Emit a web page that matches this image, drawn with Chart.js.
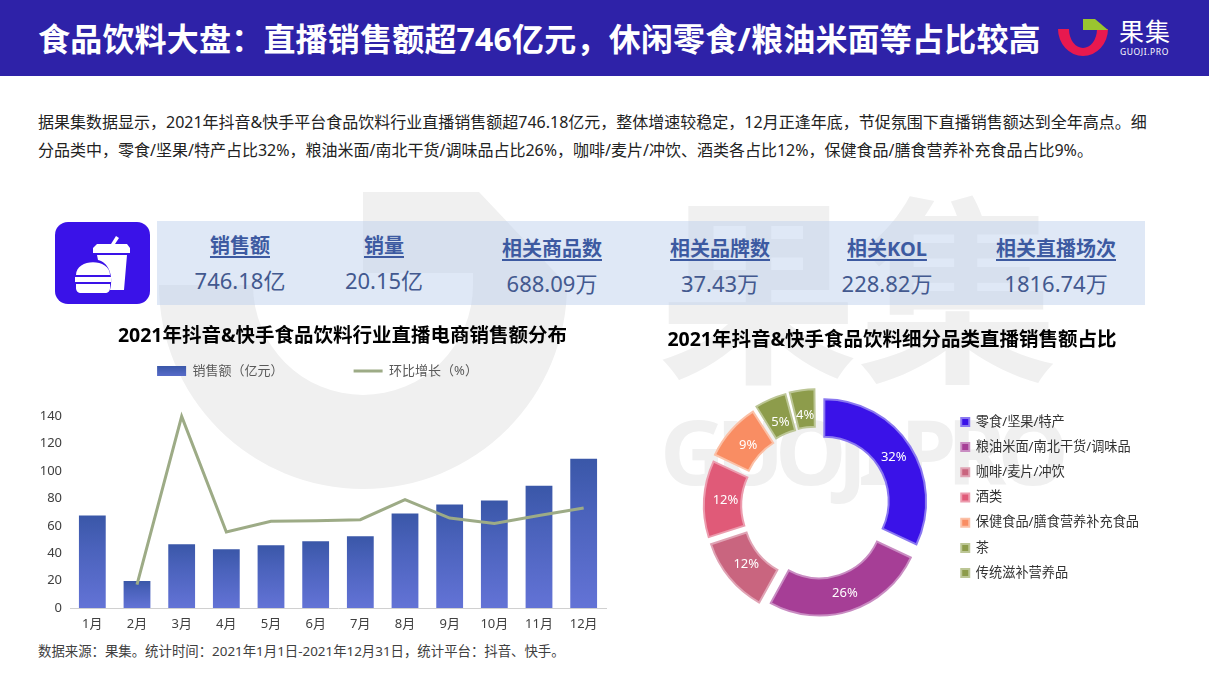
<!DOCTYPE html>
<html lang="zh">
<head>
<meta charset="utf-8">
<title>食品饮料大盘</title>
<script src="https://cdn.jsdelivr.net/npm/chart.js@4/dist/chart.umd.min.js"></script>
<style>
  * { box-sizing: border-box; }
  html, body { margin: 0; padding: 0; background: #fff; }
  body { width: 1209px; height: 680px; position: relative; overflow: hidden;
         font-family: "Noto Sans", "Noto Sans CJK SC", sans-serif; color: #222; }
  .abs { position: absolute; white-space: nowrap; }
  .header { left: 0; top: 0; width: 1209px; height: 76px; background: #2e22a8; }
  .headline { left: 38px; top: 16px; font-size: 32px; line-height: 46px; font-weight: 700; color: #fff; letter-spacing: .2px; }
  .intro { left: 38px; font-size: 16px; line-height: 20px; color: #222; }
  .band { left: 157px; top: 221px; width: 988px; height: 84px; background: rgba(186,205,236,.46); }
  .kpi { transform: translateX(-50%); text-align: center; color: #43598f; }
  .kpi b { display: block; font-size: 20px; line-height: 28px; color: #3d5aa1; text-decoration: underline; text-underline-offset: 3px; }
  .kpi span { display: block; font-size: 22px; line-height: 34px; margin-top: 3px; }
  .mark { color: #f0f0f0; font-weight: 700; }
  canvas { position: absolute; }
  .source { left: 38px; top: 641px; font-size: 13.4px; line-height: 20px; color: #404040; }
</style>
</head>
<body>

<!-- watermark behind everything -->
<svg class="abs" style="left:0;top:0" width="1209" height="680">
  <path d="M159 285 H253 A110 110 0 0 0 473 285 H567 A204 204 0 0 1 159 285 Z" fill="#f0f0f0"/>
  <path d="M363 192 H479 L567 285 H473 V273 H363 Z" fill="#f0f0f0"/>
</svg>
<div class="abs mark" style="left:658px;top:145px;font-size:200px;line-height:290px;">果集</div>
<div class="abs mark" style="left:660px;top:390px;font-size:90px;line-height:120px;letter-spacing:-9px;">GUOJI.PRO</div>

<div class="abs header"></div>
<div class="abs headline">食品饮料大盘：直播销售额超746亿元，休闲零食/粮油米面等占比较高</div>
<svg class="abs" style="left:1050px;top:10px" width="70" height="55">
  <path d="M8 19 H19 A14 19 0 0 0 47 19 H58 A25 27 0 0 1 8 19 Z" fill="#e8194f"/>
  <path d="M33 9 H45 L58 20 H33 Z" fill="#9ac52f"/>
</svg>
<div class="abs" style="left:1119px;top:13px;font-size:25px;line-height:36px;color:#fff;letter-spacing:1px;">果集</div>
<div class="abs" style="left:1120px;top:46px;font-size:8.5px;line-height:12px;color:#fff;letter-spacing:.6px;">GUOJI.PRO</div>

<div class="abs intro" style="top:112px">据果集数据显示，2021年抖音&amp;快手平台食品饮料行业直播销售额超746.18亿元，整体增速较稳定，12月正逢年底，节促氛围下直播销售额达到全年高点。细</div>
<div class="abs intro" style="top:140px">分品类中，零食/坚果/特产占比32%，粮油米面/南北干货/调味品占比26%，咖啡/麦片/冲饮、酒类各占比12%，保健食品/膳食营养补充食品占比9%。</div>

<div class="abs band"></div>
<svg class="abs" style="left:55px;top:222px" width="95" height="82" viewBox="55 222 95 82">
  <rect x="55" y="222" width="95" height="82" rx="13" fill="#3a12e8"/>
  <path d="M111 244 L116 236 L119 238 L115 244 Z" fill="#fff"/>
  <path d="M97 244 H127 L130 248 V253 H93 V248 Z" fill="#fff"/>
  <path d="M97 255 H127 L124 290 H110 C114 275 108 262 98 260 Z" fill="#fff"/>
  <path d="M76 275 C76 258 110 258 110 275 Z" fill="#fff"/>
  <path d="M75 277 H111 V282 H75 Z" fill="#fff"/>
  <path d="M76 284 H110 V288 C110 291 108 293 105 293 H81 C78 293 76 291 76 288 Z" fill="#fff"/>
</svg>

<div class="abs kpi" style="left:240px;top:232px"><b>销售额</b><span>746.18亿</span></div>
<div class="abs kpi" style="left:384px;top:232px"><b>销量</b><span>20.15亿</span></div>
<div class="abs kpi" style="left:552px;top:235px"><b>相关商品数</b><span>688.09万</span></div>
<div class="abs kpi" style="left:720px;top:235px"><b>相关品牌数</b><span>37.43万</span></div>
<div class="abs kpi" style="left:887px;top:235px"><b>相关KOL</b><span>228.82万</span></div>
<div class="abs kpi" style="left:1056px;top:235px"><b>相关直播场次</b><span>1816.74万</span></div>

<canvas id="barChart" width="610" height="320" style="left:37px;top:320px"></canvas>
<canvas id="pieChart" width="502" height="306" style="left:640px;top:320px"></canvas>

<div class="abs source">数据来源：果集。统计时间：2021年1月1日-2021年12月31日，统计平台：抖音、快手。</div>

<script>
// Monthly chart data.
const months = ["1月", "2月", "3月", "4月", "5月", "6月", "7月", "8月", "9月", "10月", "11月", "12月"];
const sales = [67.6, 19.8, 46.6, 43, 45.9, 48.8, 52.4, 69, 75.6, 78.5, 89.4, 109];
const growth = [null, 17, 140, 55.5, 63.3, 63.8, 64.5, 79.2, 65.7, 61.8, 67.6, 73];

// Category share data.
const categories = ["零食/坚果/特产", "粮油米面/南北干货/调味品", "咖啡/麦片/冲饮", "酒类", "保健食品/膳食营养补充食品", "茶", "传统滋补营养品"];
const shares = [32, 26, 12, 12, 9, 5, 4];
const shareColors = ["#3a12e8", "#a63e96", "#c9657f", "#e05a78", "#f98d63", "#8d9c4b", "#8d9c4b"];
const shareBorders = ["#8a78f0", "#c98cc2", "#e0a3b4", "#ec9cae", "#fbc0a6", "#bcc695", "#bcc695"];

const FONT = '"Noto Sans", "Noto Sans CJK SC", sans-serif';
Chart.defaults.font.family = FONT;
Chart.defaults.animation = false;

// Each bar has its own top-to-bottom gradient.
function barFill(context) {
  const { chart, parsed } = context;
  if (context.type !== "data" || !chart.chartArea || !parsed) return "#4a62bd";
  const top = chart.scales.y.getPixelForValue(parsed.y);
  const bottom = chart.scales.y.getPixelForValue(0);
  const g = chart.ctx.createLinearGradient(0, top, 0, bottom);
  g.addColorStop(0, "#3a57a8");
  g.addColorStop(0.35, "#4a62bb");
  g.addColorStop(1, "#6373d6");
  return g;
}

// Moves legend and title away from where the layout put them.
// Both are centre-aligned, so left/top count double.
const nudge = {
  id: "nudge",
  afterLayout(chart, args, opts) {
    chart.legend.left += (opts.legendX || 0) * 2;
    chart.legend.top += (opts.legendY || 0) * 2;
    chart.titleBlock.left += (opts.titleX || 0) * 2;
  },
};

// Percent labels inside the donut slices.
// Arcs are drawn shifted by offset / 4, so tooltipPosition() lands too far out.
const sliceLabels = {
  id: "sliceLabels",
  afterDatasetsDraw(chart) {
    const { ctx } = chart;
    ctx.save();
    ctx.font = "13px " + FONT;
    ctx.fillStyle = "#fff";
    ctx.textAlign = "center";
    ctx.textBaseline = "middle";
    chart.getDatasetMeta(0).data.forEach((arc, i) => {
      const mid = (arc.startAngle + arc.endAngle) / 2;
      const r = (arc.innerRadius + arc.outerRadius) / 2 + arc.options.offset / 4;
      ctx.fillText(shares[i] + "%", arc.x + Math.cos(mid) * r, arc.y + Math.sin(mid) * r);
    });
    ctx.restore();
  },
};

const barCanvas = document.getElementById("barChart");
const swatch = barCanvas.getContext("2d").createLinearGradient(0, 46, 0, 57);
swatch.addColorStop(0, "#3a57a8");
swatch.addColorStop(1, "#5a6dcc");

new Chart(barCanvas, {
  data: {
    labels: months,
    datasets: [
      { type: "line", label: "环比增长（%）", data: growth, borderColor: "#9dab86", borderWidth: 3,
        pointRadius: 0, tension: 0, clip: false, spanGaps: false, order: 1 },
      { type: "bar", label: "销售额（亿元）", data: sales, backgroundColor: barFill,
        barPercentage: 0.6, categoryPercentage: 1, order: 2 },
    ],
  },
  plugins: [nudge],
  options: {
    responsive: false,
    layout: { padding: { right: 41, left: 0, top: 0, bottom: 0 } },
    plugins: {
      title: { display: true, text: "2021年抖音&快手食品饮料行业直播电商销售额分布", color: "#000",
        font: { size: 19.5, weight: "bold" }, padding: { top: 5, bottom: 0 } },
      legend: {
        position: "top",
        maxHeight: 68,
        labels: {
          padding: 70, color: "#595959", font: { size: 13 }, usePointStyle: true, pointStyleWidth: 29, boxHeight: 10,
          generateLabels: () => [
            { text: "销售额（亿元）", fillStyle: swatch, lineWidth: 0, pointStyle: "rect", datasetIndex: 1, fontColor: "#595959" },
            { text: "环比增长（%）", strokeStyle: "#9dab86", lineWidth: 3, pointStyle: "line", datasetIndex: 0, fontColor: "#595959" },
          ],
        },
      },
      nudge: { legendX: -4, legendY: -27, titleX: 21 },
      tooltip: { enabled: false },
    },
    scales: {
      x: {
        grid: { display: false, drawTicks: false },
        border: { color: "#d0d0d0" },
        ticks: { color: "#404040", font: { size: 13 }, padding: 8, maxRotation: 0, autoSkip: false },
        afterFit: (s) => { s.height = 32; },
      },
      y: {
        min: 0, max: 140,
        grid: { display: false, drawTicks: false },
        border: { display: false },
        ticks: { color: "#404040", font: { size: 13 }, padding: 8, stepSize: 20 },
        afterFit: (s) => { s.width = 33; },
      },
    },
  },
});

new Chart(document.getElementById("pieChart"), {
  type: "doughnut",
  data: {
    labels: categories,
    datasets: [{ data: shares, backgroundColor: shareColors, borderColor: shareBorders, borderWidth: 2,
      borderJoinStyle: "miter", offset: 36, hoverOffset: 0 }],
  },
  plugins: [sliceLabels, nudge],
  options: {
    responsive: false,
    cutout: "63%",
    layout: { padding: { left: 51, right: 0, top: 0, bottom: 0 } },
    plugins: {
      title: { display: true, text: "2021年抖音&快手食品饮料细分品类直播销售额占比", color: "#000",
        font: { size: 19.5, weight: "bold" }, padding: { top: 9, bottom: 33.6 } },
      legend: {
        position: "right",
        labels: { padding: 12, color: "#333", font: { size: 13.2 }, boxWidth: 8, boxHeight: 8 },
      },
      nudge: { legendX: 3.5, legendY: 24.5, titleX: -24.5 },
      tooltip: { enabled: false },
    },
  },
});
</script>
</body>
</html>
